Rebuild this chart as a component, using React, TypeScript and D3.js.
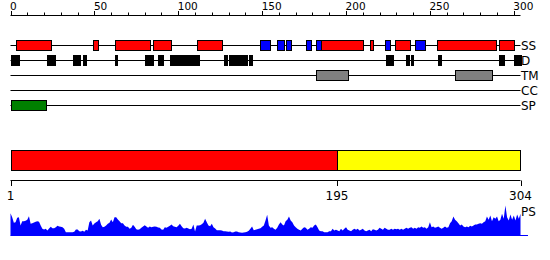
import React from "react";
import * as d3 from "d3";

// ---- data ----
const seqLength = 304;
const topTicks = d3.range(0, 301, 10);
const trackNames = ["SS", "D", "TM", "CC", "SP"];
const helices: [number, number][] = [
  [3, 24], [49, 52], [62, 83], [85, 96], [111, 126], [185, 210], [214, 216], [229, 238], [254, 289], [291, 300],
];
const strands: [number, number][] = [
  [149, 155], [159, 163], [164, 167], [176, 179], [182, 185], [223, 226], [241, 247],
];
const disorder: [number, number][] = [
  [0, 5], [22, 27], [37, 41], [43, 45], [62, 63], [80, 85], [88, 91], [95, 112], [127, 129], [130, 141],
  [142, 144], [224, 228], [236, 238], [239, 240], [255, 257], [291, 294], [300, 304],
];
const transmembrane: [number, number][] = [[182, 201], [265, 287]];
const coiledCoil: [number, number][] = [];
const signalPeptide: [number, number][] = [[0, 21]];
const domainBreaks = [1, 195, 304];
const psValues = [
  67, 55, 38, 40, 53, 55, 30, 43, 43, 44,
  47, 58, 35, 37, 39, 41, 43, 41, 30, 20,
  18, 20, 15, 21, 26, 22, 22, 25, 29, 27,
  26, 25, 20, 10, 10, 10, 10, 10, 11, 18,
  18, 13, 12, 14, 11, 17, 15, 40, 45, 30,
  36, 40, 43, 50, 32, 25, 26, 30, 35, 38,
  48, 40, 55, 55, 48, 43, 37, 37, 30, 26,
  26, 20, 23, 32, 26, 19, 17, 19, 23, 27,
  31, 27, 23, 27, 25, 26, 27, 26, 24, 23,
  18, 17, 25, 23, 26, 29, 33, 28, 26, 25,
  29, 35, 28, 22, 21, 23, 21, 19, 20, 33,
  12, 30, 30, 31, 34, 38, 50, 40, 30, 28,
  35, 25, 21, 16, 16, 16, 15, 13, 13, 12,
  11, 12, 9, 10, 12, 12, 10, 9, 8, 9,
  10, 11, 14, 20, 27, 16, 17, 19, 20, 22,
  26, 30, 45, 62,
  30, 23, 25, 20, 17, 23, 33, 40, 33, 30,
  43, 47, 57, 45, 40, 30, 25, 20, 17, 15,
  20, 25, 23, 17, 20, 25, 23, 30, 33, 25,
  15, 13, 13, 10, 10, 10, 13, 13, 20, 15,
  17, 15, 13, 20, 15, 20, 25, 17, 15, 13,
  17, 20, 17, 20, 15, 17, 20, 15, 13, 15,
  17, 13, 19, 17, 15, 17, 23, 20, 17, 23,
  20, 17, 17, 20, 17, 20, 19, 20, 17, 20,
  17, 20, 23, 20, 23, 25, 20, 23, 20, 25,
  23, 27, 23, 25, 20, 25, 40, 25, 27, 23,
  25, 27, 23, 20, 23, 27, 23, 25, 37, 43,
  57, 47, 43, 37, 30, 33, 27, 25, 27, 25,
  29, 27, 30, 33, 33, 35, 37, 35, 40, 43,
  57, 47, 60, 43, 55, 50, 57, 43, 47, 65,
  50, 90, 55, 45, 63, 47, 60, 45, 63, 50,
  65,
];
const psMax = 90;

const FONT = "DejaVu Sans, sans-serif";

export default function App() {
  const x = d3.scaleLinear().domain([0, seqLength]).range([10.5, 520.5]);
  const xb = d3.scaleLinear().domain([1, seqLength]).range([10.5, 520.5]);
  const idx = d3.scaleLinear().domain([0, psValues.length - 1]).range([1, seqLength]);
  const y = d3.scaleLinear().domain([0, psMax]).range([235.5, 205.5]);
  const trackY = d3.scalePoint<string>().domain(trackNames).range([45.5, 105.5]);

  const area = d3
    .area<number>()
    .x((_, i) => xb(idx(i)))
    .y0(y(0))
    .y1((d) => y(d))
    .curve(d3.curveLinear);

  const tracks: { name: string; segs: [number, number][]; fill: string }[][] = [
    [
      { name: "SS", segs: helices, fill: "#ff0000" },
      { name: "SS", segs: strands, fill: "#0000ff" },
    ],
    [{ name: "D", segs: disorder, fill: "#000000" }],
    [{ name: "TM", segs: transmembrane, fill: "#808080" }],
    [{ name: "CC", segs: coiledCoil, fill: "#ffaa00" }],
    [{ name: "SP", segs: signalPeptide, fill: "#008000" }],
  ];

  const domainColors = ["#ff0000", "#ffff00"];

  return (
    <div style={{ position: "absolute", left: 0, top: 0 }}>
      <svg width={550} height={260} style={{ display: "block", background: "#fff" }}>
        {/* top axis */}
        <line x1={x(0)} x2={x(seqLength)} y1={15.5} y2={15.5} stroke="#000" />
        {topTicks.map((t) => (
          <line
            key={"t" + t}
            x1={Math.round(x(t)) + 0.5}
            x2={Math.round(x(t)) + 0.5}
            y1={t % 50 === 0 ? 11 : 12.5}
            y2={15.5}
            stroke="#000"
          />
        ))}
        {topTicks
          .filter((t) => t % 50 === 0)
          .map((t) => (
            <text key={"l" + t} x={x(t) - 0.5} y={10} fontSize={10.5} fontFamily={FONT} fill="#000">
              {t}
            </text>
          ))}

        {/* tracks */}
        {trackNames.map((name, ti) => {
          const ly = trackY(name)!;
          return (
            <g key={name}>
              <line x1={x(0)} x2={x(seqLength)} y1={ly} y2={ly} stroke="#000" />
              {tracks[ti].map((grp, gi) =>
                grp.segs.map(([s, e], si) => (
                  <rect
                    key={gi + "-" + si}
                    x={Math.round(x(s)) + 0.5}
                    y={ly - 5}
                    width={Math.max(1, Math.round(x(e) - x(s)))}
                    height={10}
                    fill={grp.fill}
                    stroke="#000"
                  />
                ))
              )}
              <text x={521} y={ly + 4} fontSize={12} fontFamily={FONT} fill="#000">
                {name}
              </text>
            </g>
          );
        })}

        {/* domain bar */}
        {domainBreaks.slice(0, -1).map((b, i) => (
          <rect
            key={"d" + i}
            x={Math.round(xb(b)) + 0.5}
            y={150.5}
            width={Math.round(xb(domainBreaks[i + 1]) - xb(b))}
            height={20}
            fill={domainColors[i]}
            stroke="#000"
          />
        ))}
        <line x1={xb(1)} x2={xb(seqLength)} y1={180.5} y2={180.5} stroke="#000" />
        {domainBreaks.map((b) => (
          <g key={"bt" + b}>
            <line x1={Math.round(xb(b)) + 0.5} x2={Math.round(xb(b)) + 0.5} y1={180.5} y2={186} stroke="#000" />
            <text x={xb(b)} y={200} textAnchor="middle" fontSize={12} fontFamily={FONT} fill="#000">
              {b}
            </text>
          </g>
        ))}

        {/* PS profile */}
        <path d={area(psValues) ?? ""} fill="#0000ff" />
        <line x1={xb(1)} x2={528} y1={235.5} y2={235.5} stroke="#0000ff" />
        <text x={521} y={215.5} fontSize={12} fontFamily={FONT} fill="#000">
          PS
        </text>
      </svg>
    </div>
  );
}
